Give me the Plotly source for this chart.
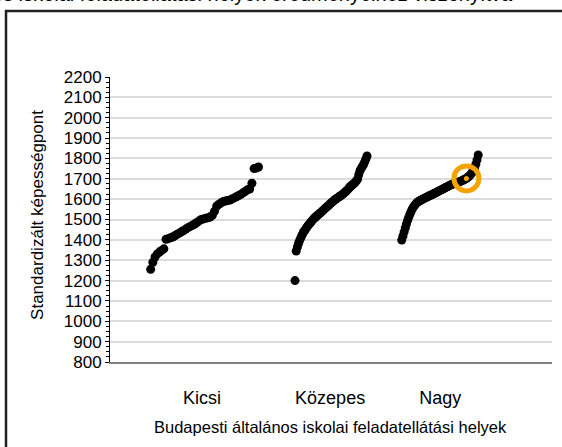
import numpy as np
import plotly.graph_objects as go

# ---- data (standardised scores per school, sorted within each group) ----
categories = ["Kicsi", "Közepes", "Nagy"]

kicsi = [1255, 1290, 1316, 1331, 1340, 1348, 1356, 1403, 1406, 1410,
         1414, 1420, 1427, 1433, 1440, 1446, 1453, 1460, 1466, 1472,
         1478, 1485, 1493, 1500, 1503, 1506, 1508, 1512, 1520, 1540,
         1566, 1575, 1582, 1588, 1591, 1593, 1596, 1601, 1606, 1612,
         1618, 1624, 1631, 1638, 1646, 1650, 1678, 1750, 1753, 1758]

kozepes = [1200, 1345, 1365, 1382, 1398, 1411, 1424, 1436, 1445, 1453,
           1462, 1470, 1477, 1484, 1491, 1498, 1504, 1510, 1515, 1520,
           1525, 1530, 1535, 1541, 1546, 1552, 1557, 1562, 1567, 1572,
           1578, 1583, 1588, 1593, 1598, 1602, 1606, 1610, 1614, 1618,
           1622, 1627, 1632, 1637, 1643, 1649, 1656, 1662, 1667, 1672,
           1677, 1683, 1690, 1698, 1720, 1738, 1750, 1760, 1769, 1782,
           1796, 1812]

nagy = [1399, 1418, 1438, 1458, 1478, 1496, 1512, 1526, 1540, 1552,
        1562, 1570, 1577, 1583, 1587, 1591, 1594, 1597, 1600, 1603,
        1606, 1609, 1612, 1615, 1618, 1620, 1623, 1626, 1629, 1632,
        1635, 1638, 1641, 1644, 1647, 1650, 1653, 1656, 1659, 1662,
        1665, 1668, 1671, 1673, 1675, 1677, 1679, 1681, 1683, 1685,
        1687, 1690, 1693, 1696, 1699, 1702, 1706, 1711, 1717, 1724,
        1732, 1742, 1755, 1772, 1793, 1817]

highlight_index = 55          # the school's own result within "Nagy"

y_ticks = list(range(800, 2201, 100))

# ---- layout of the groups along the horizontal axis (0..1) ----
group_spans = [(0.092, 0.336), (0.4186, 0.5814), (0.660, 0.833)]
category_pos = [0.208, 0.498, 0.747]

FONT = "Liberation Sans, Arial, sans-serif"

fig = go.Figure()
for vals, (a, b) in zip([kicsi, kozepes, nagy], group_spans):
    xs = np.linspace(a, b, len(vals))
    fig.add_trace(go.Scatter(x=xs, y=vals, mode="markers",
                             marker=dict(color="black", size=9, line=dict(width=0)),
                             showlegend=False, hoverinfo="y"))

nx = np.linspace(group_spans[2][0], group_spans[2][1], len(nagy))
hx, hy = nx[highlight_index], nagy[highlight_index]
fig.add_trace(go.Scatter(x=[hx], y=[hy], mode="markers",
                         marker=dict(color="rgba(0,0,0,0)", size=25,
                                     line=dict(color="#F5A300", width=5)),
                         showlegend=False, hoverinfo="skip"))
fig.add_trace(go.Scatter(x=[hx], y=[hy], mode="markers",
                         marker=dict(color="#F5A300", size=5, line=dict(width=0)),
                         showlegend=False, hoverinfo="skip"))

fig.update_layout(
    width=562, height=447,
    margin=dict(l=110, r=10, t=77, b=85),
    paper_bgcolor="white", plot_bgcolor="white",
    font=dict(family=FONT, color="black"),
    xaxis=dict(range=[0, 1], showgrid=False, zeroline=False,
               showline=True, linecolor="#808080", linewidth=2,
               tickmode="array", tickvals=category_pos, ticktext=categories,
               ticks="", tickfont=dict(size=18, family=FONT),
               ticklabelstandoff=18),
    yaxis=dict(range=[800, 2200], tickmode="array", tickvals=y_ticks,
               showgrid=True, gridcolor="#dcdcdc", gridwidth=1.5,
               zeroline=False, showline=True, linecolor="black", linewidth=1,
               ticks="outside", ticklen=4, tickcolor="black",
               tickfont=dict(size=17, family=FONT),
               minor=dict(dtick=25, ticks="outside", ticklen=3,
                          tickcolor="black", showgrid=False)),
    annotations=[
        dict(text="Budapesti általános iskolai feladatellátási helyek",
             xref="paper", yref="paper", x=0.498, y=-0.228,
             xanchor="center", yanchor="middle", showarrow=False,
             font=dict(size=16.5, family=FONT)),
        dict(text="Standardizált képességpont", textangle=-90,
             xref="paper", yref="paper", x=-0.163, y=0.516,
             xanchor="center", yanchor="middle", showarrow=False,
             font=dict(size=17, family=FONT)),
        dict(text="általános iskolai feladatellátási helyek eredményeihez viszonyítva",
             xref="paper", yref="paper", x=(515 - 110) / 442, y=(362 - 7) / 285,
             xanchor="right", yanchor="bottom", showarrow=False,
             font=dict(size=20, family=FONT)),
    ],
    shapes=[dict(type="rect", xref="paper", yref="paper",
                 x0=(6 - 110) / 442, x1=(580 - 110) / 442,
                 y0=(362 - 470) / 285, y1=(362 - 11) / 285,
                 line=dict(color="#222222", width=2.5), fillcolor="rgba(0,0,0,0)",
                 layer="below")],
)

fig.write_html("out.html", config={"displayModeBar": False},
               post_script="document.body.style.margin='0';document.body.style.overflow='hidden';")
